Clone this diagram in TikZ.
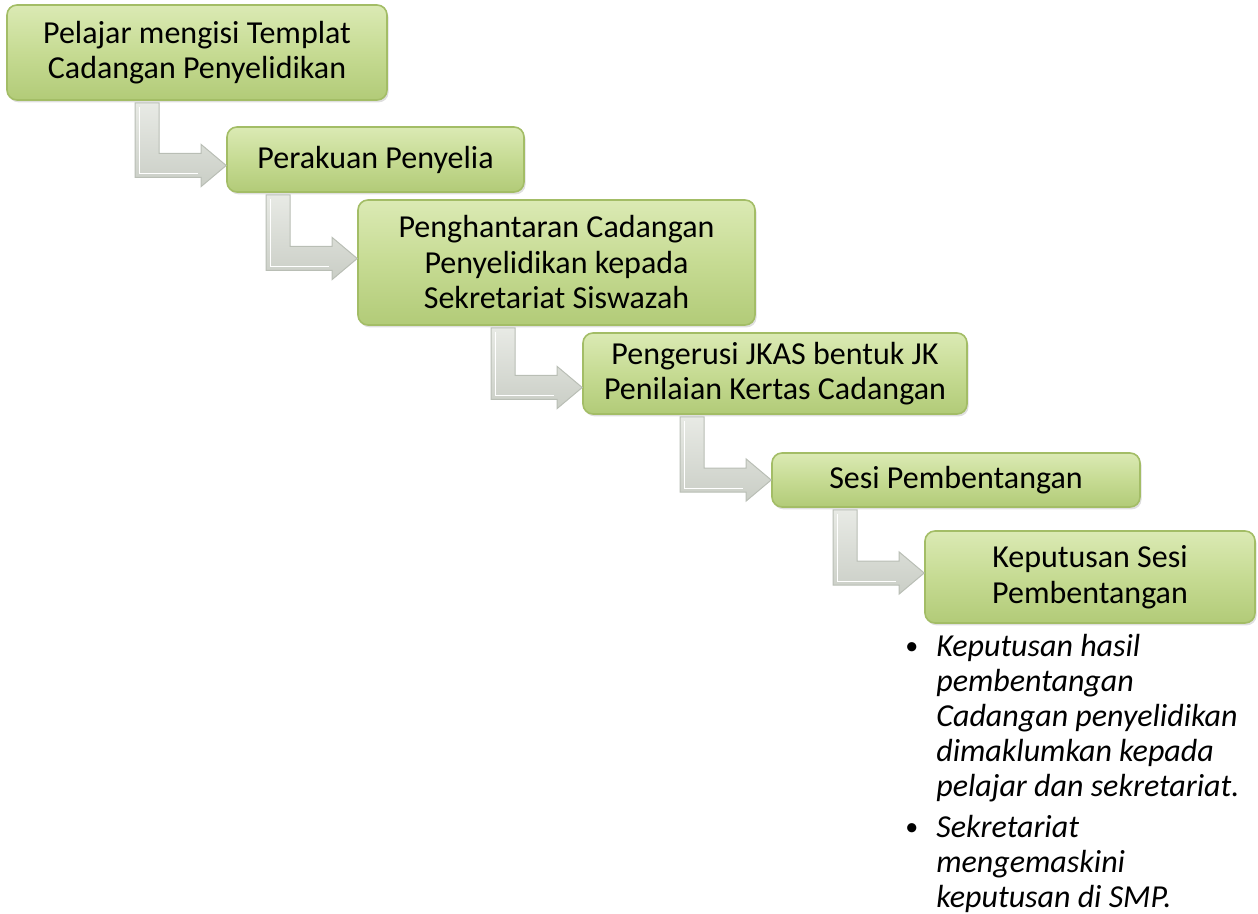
\documentclass[tikz,border=0pt]{standalone}
\usepackage{fontspec}
\setmainfont{Carlito}
\usetikzlibrary{calc,shadows}
\definecolor{boxtop}{HTML}{DBEAB4}
\definecolor{boxmid}{HTML}{C6DB93}
\definecolor{boxbot}{HTML}{B2CB78}
\definecolor{boxedge}{HTML}{A3BD66}
\definecolor{arrtop}{HTML}{E8EAE5}
\definecolor{arrbot}{HTML}{CACEC6}
\definecolor{arredge}{HTML}{B9BEB5}
\tikzset{
  stepbox/.style={rectangle, rounded corners=5pt, draw=boxedge, line width=0.8pt,
    top color=boxtop, bottom color=boxbot, middle color=boxmid,
    drop shadow={opacity=0.25, shadow xshift=0.8pt, shadow yshift=-1.2pt},
    align=center, font=\fontsize{16}{17.75}\selectfont, inner sep=2pt},
  arrfill/.style={top color=arrtop, bottom color=arrbot, draw=arredge, line width=0.5pt, line join=miter},
}
\newcommand\bentarr[3]{%
  \path[arrfill] let \p1=($(#2.west)+(0,#3)$), \p2=(#1.south) in
    (\x1-45.5pt,\y2-1pt) -- (\x1-33.5pt,\y2-1pt) -- (\x1-33.5pt,\y1+6pt)
    -- (\x1-12.5pt,\y1+6pt) -- (\x1-12.5pt,\y1+10.5pt) -- (\x1,\y1)
    -- (\x1-12.5pt,\y1-10.5pt) -- (\x1-12.5pt,\y1-6pt) -- (\x1-45.5pt,\y1-6pt) -- cycle;
  \path[draw=white, line width=0.4pt] let \p1=($(#2.west)+(0,#3)$), \p2=(#1.south) in
    (\x1-43.5pt,\y2-3pt) -- (\x1-43.5pt,\y1-4pt) -- (\x1-14pt,\y1-4pt);
}
\newcommand\blt{\raisebox{1pt}{\fontsize{13}{13}\selectfont\upshape\textbullet}}
\begin{document}
\begin{tikzpicture}[x=0.5pt,y=-0.5pt]
\useasboundingbox (0,0) rectangle (1258,914);
\node[stepbox, minimum width=190pt, minimum height=47.5pt] (s1) at (197,52.5)
  {Pelajar mengisi Templat\\Cadangan Penyelidikan};
\node[stepbox, minimum width=148.5pt, minimum height=32.5pt] (s2) at (375.5,159.5)
  {Perakuan Penyelia};
\node[stepbox, minimum width=198.5pt, minimum height=62.5pt] (s3) at (556.5,262.5)
  {Penghantaran Cadangan\\Penyelidikan kepada\\Sekretariat Siswazah};
\node[stepbox, minimum width=192pt, minimum height=40.5pt] (s4) at (775,373.5)
  {Pengerusi JKAS bentuk JK\\Penilaian Kertas Cadangan};
\node[stepbox, minimum width=184pt, minimum height=27pt] (s5) at (956,480)
  {Sesi Pembentangan};
\node[stepbox, minimum width=165pt, minimum height=46pt] (s6) at (1090,577)
  {Keputusan Sesi\\Pembentangan};
\bentarr{s1}{s2}{-3pt}
\bentarr{s2}{s3}{2pt}
\bentarr{s3}{s4}{-7pt}
\bentarr{s4}{s5}{0pt}
\bentarr{s5}{s6}{2pt}
\node[anchor=base west, inner sep=0pt, font=\fontsize{16}{17.5}\selectfont\itshape] (notes) at (905,656)
  {\begin{tabular}[t]{@{}l@{\hspace{9pt}}l@{}}
   \blt & Keputusan hasil\\
   & pembentangan\\
   & Cadangan penyelidikan\\
   & dimaklumkan kepada\\
   & pelajar dan sekretariat.\\[3pt]
   \blt & Sekretariat\\
   & mengemaskini\\
   & keputusan di SMP.
  \end{tabular}};
\end{tikzpicture}
\end{document}
